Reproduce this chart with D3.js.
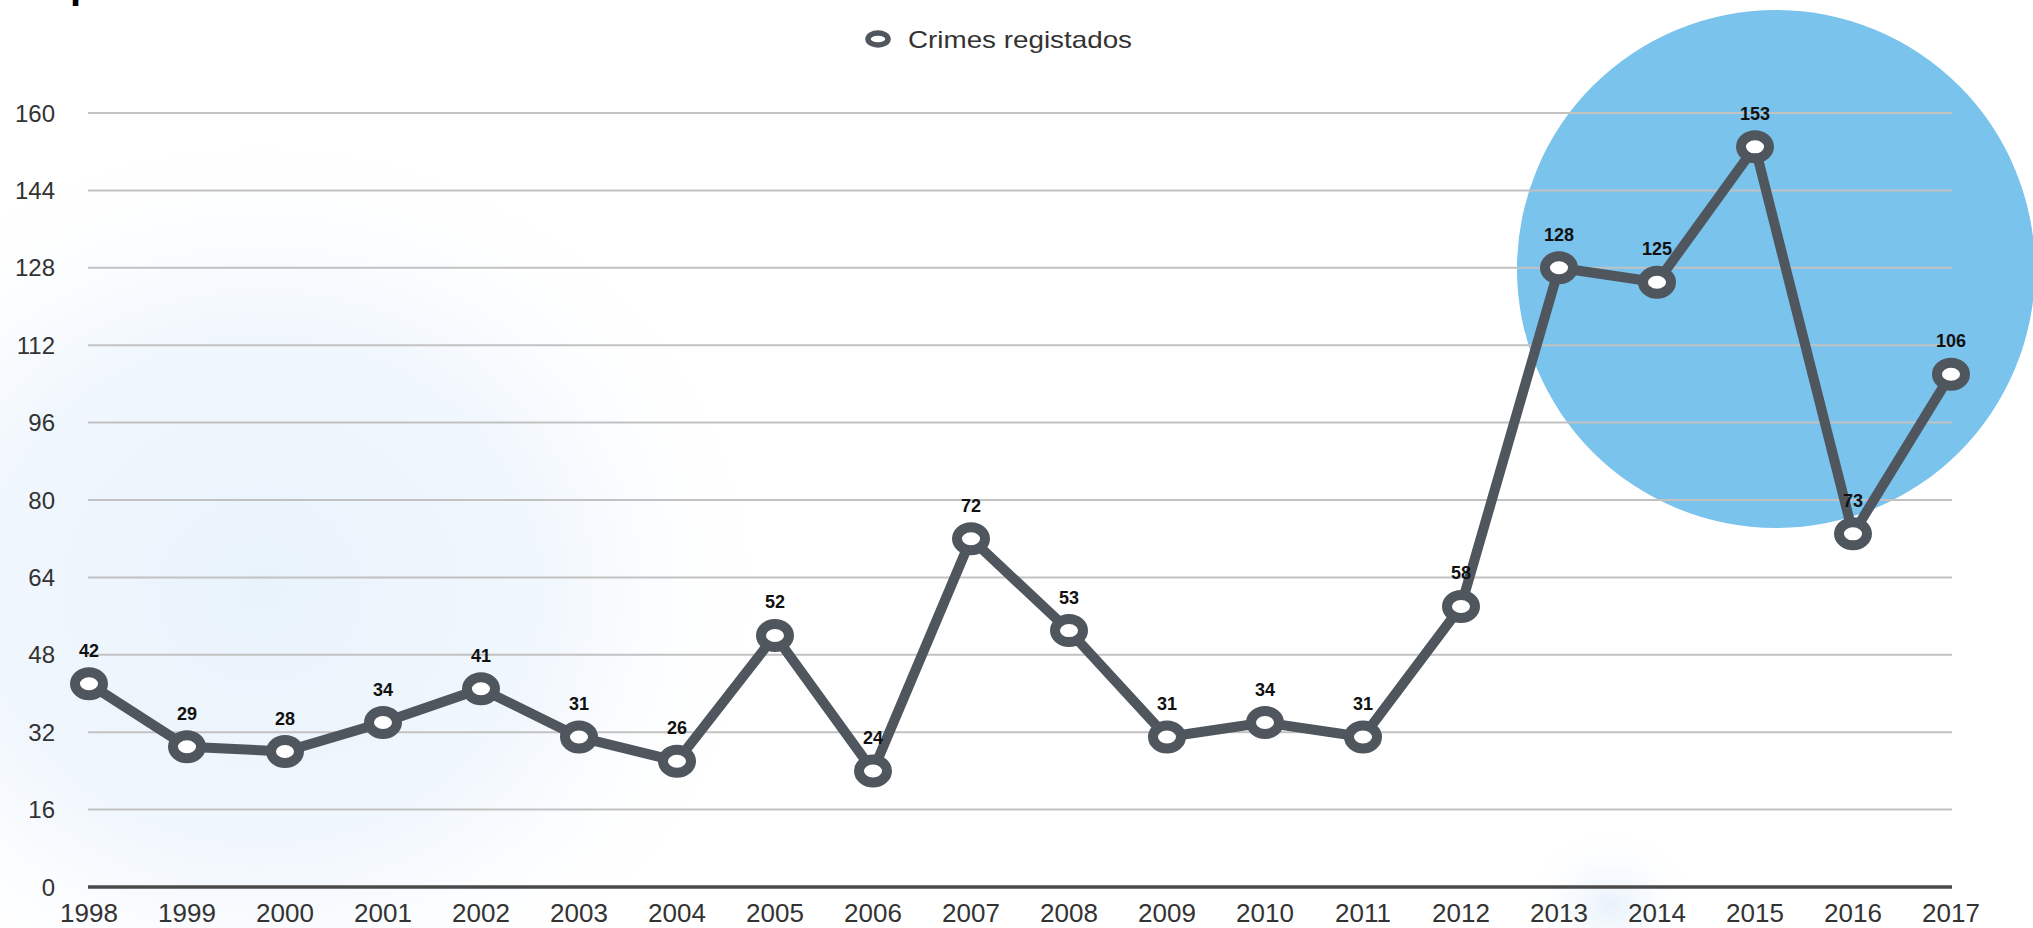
<!DOCTYPE html>
<html>
<head>
<meta charset="utf-8">
<script src="https://cdn.jsdelivr.net/npm/d3@7"></script>
<style>
  html, body { margin: 0; padding: 0; background: #ffffff; }
  svg { display: block; font-family: "Liberation Sans", Arial, Helvetica, sans-serif; }
</style>
</head>
<body>
<svg id="chart" width="2033" height="928"></svg>
<script>
// Registered crimes per year
const years = [1998, 1999, 2000, 2001, 2002, 2003, 2004, 2005, 2006, 2007,
               2008, 2009, 2010, 2011, 2012, 2013, 2014, 2015, 2016, 2017];
const crimes = [42, 29, 28, 34, 41, 31, 26, 52, 24, 72,
                53, 31, 34, 31, 58, 128, 125, 153, 73, 106];
const yTicks = [0, 16, 32, 48, 64, 80, 96, 112, 128, 144, 160];
const seriesName = "Crimes registados";

const W = 2033, H = 928;
const svg = d3.select("#chart");

const x = d3.scalePoint().domain(years).range([89, 1951]);
const y = d3.scaleLinear().domain([0, 160]).range([887, 113]);

const lineColor = "#50565d";

// Soft background glow
const defs = svg.append("defs");
const g1 = defs.append("radialGradient").attr("id", "glowLeft");
g1.append("stop").attr("offset", "0%").attr("stop-color", "#e9f3fc").attr("stop-opacity", 1);
g1.append("stop").attr("offset", "55%").attr("stop-color", "#eff6fd").attr("stop-opacity", 0.9);
g1.append("stop").attr("offset", "100%").attr("stop-color", "#ffffff").attr("stop-opacity", 0);
const g2 = defs.append("radialGradient").attr("id", "glowBottom");
g2.append("stop").attr("offset", "0%").attr("stop-color", "#e8f2fb").attr("stop-opacity", 1);
g2.append("stop").attr("offset", "100%").attr("stop-color", "#ffffff").attr("stop-opacity", 0);

svg.append("rect").attr("width", W).attr("height", H).attr("fill", "#ffffff");
svg.append("ellipse").attr("cx", 260).attr("cy", 590).attr("rx", 520).attr("ry", 470)
  .attr("fill", "url(#glowLeft)");
svg.append("ellipse").attr("cx", 1610).attr("cy", 905).attr("rx", 90).attr("ry", 80)
  .attr("fill", "url(#glowBottom)");

// Highlight disc behind the recent years
svg.append("circle")
  .attr("cx", x(2015) + 21).attr("cy", 269)
  .attr("r", 259)
  .attr("fill", "#79c3ed");

// Cut-off title descender at the very top
svg.append("text").attr("x", 70).attr("y", -2)
  .attr("font-size", 40).attr("font-weight", "bold").attr("fill", "#000")
  .text("p");

// Horizontal grid lines
svg.append("g").selectAll("line")
  .data(yTicks.filter(d => d > 0))
  .join("line")
  .attr("x1", 88).attr("x2", 1952)
  .attr("y1", d => y(d)).attr("y2", d => y(d))
  .attr("stroke", "#c2c2c2").attr("stroke-width", 2);

// Baseline
svg.append("line")
  .attr("x1", 88).attr("x2", 1952)
  .attr("y1", y(0)).attr("y2", y(0))
  .attr("stroke", "#4a4a4a").attr("stroke-width", 3.5);

// Y axis labels
svg.append("g").selectAll("text")
  .data(yTicks)
  .join("text")
  .attr("x", 55).attr("y", d => y(d))
  .attr("text-anchor", "end").attr("dominant-baseline", "central")
  .attr("font-size", 24).attr("fill", "#333")
  .text(d => d);

// X axis labels
svg.append("g").selectAll("text")
  .data(years)
  .join("text")
  .attr("x", d => x(d)).attr("y", 922)
  .attr("text-anchor", "middle")
  .attr("font-size", 26).attr("fill", "#333")
  .text(d => d);

const data = years.map((yr, i) => ({ year: yr, value: crimes[i] }));

// Series line
svg.append("path")
  .datum(data)
  .attr("fill", "none")
  .attr("stroke", lineColor)
  .attr("stroke-width", 10)
  .attr("stroke-linejoin", "round")
  .attr("d", d3.line().x(d => x(d.year)).y(d => y(d.value)));

// Markers
svg.append("g").selectAll("ellipse")
  .data(data)
  .join("ellipse")
  .attr("cx", d => x(d.year)).attr("cy", d => y(d.value))
  .attr("rx", 14).attr("ry", 11.5)
  .attr("fill", "#ffffff")
  .attr("stroke", lineColor).attr("stroke-width", 10);

// Value labels
svg.append("g").selectAll("text")
  .data(data)
  .join("text")
  .attr("x", d => x(d.year)).attr("y", d => y(d.value) - 27)
  .attr("text-anchor", "middle")
  .attr("font-size", 18).attr("font-weight", "bold").attr("fill", "#111")
  .text(d => d.value);

// Legend
const legend = svg.append("g");
legend.append("ellipse").attr("cx", 878).attr("cy", 39)
  .attr("rx", 10).attr("ry", 6)
  .attr("fill", "#ffffff").attr("stroke", lineColor).attr("stroke-width", 5.5);
legend.append("text").attr("x", 908).attr("y", 48)
  .attr("font-size", 24).attr("fill", "#333")
  .attr("textLength", 224).attr("lengthAdjust", "spacingAndGlyphs")
  .text(seriesName);
</script>
</body>
</html>
